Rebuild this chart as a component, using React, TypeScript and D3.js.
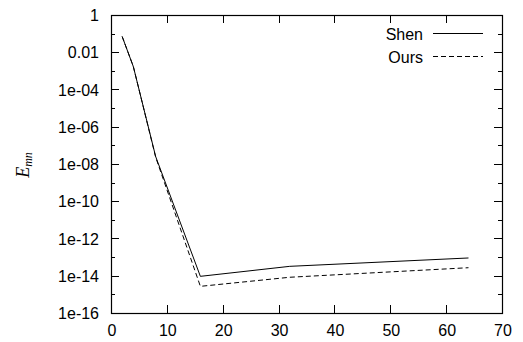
import { useEffect, useRef } from "react";
import * as d3 from "d3";

/* data */
const gridSizes = [2, 4, 8, 16, 32, 64];
const shenErr = [7e-2, 1.7e-3, 2.5e-8, 9.3e-15, 3.2e-14, 9e-14];
const oursErr = [7e-2, 1.7e-3, 2.3e-8, 2.7e-15, 8.3e-15, 2.7e-14];
const seriesNames = ["Shen", "Ours"];

const xTicks = [0, 10, 20, 30, 40, 50, 60, 70];
const yMajorExp = [0, -2, -4, -6, -8, -10, -12, -14, -16];
const yMinorExp = [-1, -3, -5, -7, -9, -11, -13, -15];
const yLabels = ["1", "0.01", "1e-04", "1e-06", "1e-08", "1e-10", "1e-12", "1e-14", "1e-16"];

const W = 523;
const H = 342;
const margin = { top: 15, right: 21, bottom: 29, left: 111 };
const FONT = "'Liberation Sans', Arial, Helvetica, sans-serif";

export default function App() {
  const svgRef = useRef<SVGSVGElement>(null);

  useEffect(() => {
    const svg = d3.select(svgRef.current);
    svg.selectAll("*").remove();

    const x0 = margin.left;
    const x1 = W - margin.right;
    const y0 = margin.top;
    const y1 = H - margin.bottom;

    const x = d3.scaleLinear().domain([0, 70]).range([x0, x1]);
    const y = d3.scaleLog().domain([1e-16, 1]).range([y1, y0]);

    const g = svg.append("g");

    // ticks, mirrored on all four sides (gnuplot style)
    const tk = g.append("g").attr("stroke", "#000").attr("stroke-width", 1);
    xTicks.forEach((t) => {
      const px = Math.round(x(t)) + 0.5;
      tk.append("line").attr("x1", px).attr("x2", px).attr("y1", y1).attr("y2", y1 - 8);
      tk.append("line").attr("x1", px).attr("x2", px).attr("y1", y0).attr("y2", y0 + 8);
    });
    yMajorExp.forEach((e) => {
      const py = Math.round(y(Math.pow(10, e))) + 0.5;
      tk.append("line").attr("x1", x0).attr("x2", x0 + 8).attr("y1", py).attr("y2", py);
      tk.append("line").attr("x1", x1).attr("x2", x1 - 8).attr("y1", py).attr("y2", py);
    });
    yMinorExp.forEach((e) => {
      const py = Math.round(y(Math.pow(10, e))) + 0.5;
      tk.append("line").attr("x1", x0).attr("x2", x0 + 4).attr("y1", py).attr("y2", py);
      tk.append("line").attr("x1", x1).attr("x2", x1 - 4).attr("y1", py).attr("y2", py);
    });

    // frame
    g.append("rect")
      .attr("x", x0 + 0.5)
      .attr("y", y0 + 0.5)
      .attr("width", x1 - x0)
      .attr("height", y1 - y0)
      .attr("fill", "none")
      .attr("stroke", "#000")
      .attr("stroke-width", 1.2);

    // tick labels
    g.append("g")
      .selectAll("text")
      .data(xTicks)
      .join("text")
      .attr("x", (d) => x(d) + 1)
      .attr("y", 336)
      .attr("text-anchor", "middle")
      .attr("font-family", FONT)
      .attr("font-size", 16)
      .text((d) => String(d));

    g.append("g")
      .selectAll("text")
      .data(yMajorExp)
      .join("text")
      .attr("x", 99)
      .attr("y", (d) => y(Math.pow(10, d)) + 6)
      .attr("text-anchor", "end")
      .attr("font-family", FONT)
      .attr("font-size", 16)
      .text((_, i) => yLabels[i]);

    // y axis title
    const yt = g
      .append("text")
      .attr("transform", "translate(29,165) rotate(-90)")
      .attr("text-anchor", "middle")
      .attr("font-family", "'Liberation Serif', 'Times New Roman', serif")
      .attr("font-style", "italic")
      .attr("font-size", 18);
    yt.append("tspan").text("E");
    yt.append("tspan").attr("font-size", 12).attr("dy", 3).text("mn");

    // series
    const line = d3
      .line<number>()
      .x((_, i) => x(gridSizes[i]))
      .y((d) => y(d));

    const series = [shenErr, oursErr];
    const dashes = [null, "5,3"];
    series.forEach((vals, k) => {
      g.append("path")
        .attr("d", line(vals))
        .attr("fill", "none")
        .attr("stroke", "#000")
        .attr("stroke-width", 1)
        .attr("stroke-dasharray", dashes[k]);
    });

    // legend
    const legY = [33.5, 56.5];
    seriesNames.forEach((name, k) => {
      g.append("text")
        .attr("x", 423)
        .attr("y", legY[k] + 6)
        .attr("text-anchor", "end")
        .attr("font-family", FONT)
        .attr("font-size", 16)
        .text(name);
      g.append("line")
        .attr("x1", 433)
        .attr("x2", 483)
        .attr("y1", legY[k])
        .attr("y2", legY[k])
        .attr("stroke", "#000")
        .attr("stroke-width", 1)
        .attr("stroke-dasharray", dashes[k]);
    });
  }, []);

  return (
    <div style={{ position: "fixed", left: 0, top: 0, background: "#fff" }}>
      <svg ref={svgRef} width={W} height={H} style={{ display: "block" }} />
    </div>
  );
}
